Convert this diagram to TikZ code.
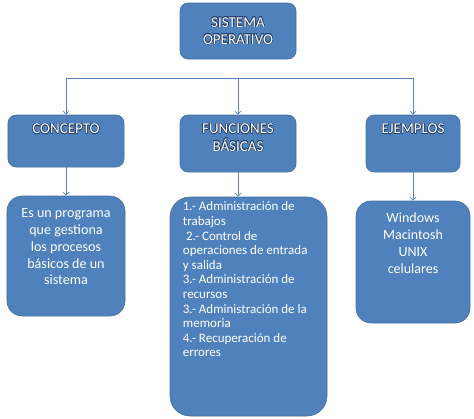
\documentclass[tikz,border=0pt]{standalone}
\usepackage{fontspec}
\setmainfont{Carlito}
\usepackage[copies]{contour}
\usetikzlibrary{arrows.meta,positioning}
\definecolor{boxblue}{HTML}{4F81BD}
\definecolor{boxline}{HTML}{44729F}
\definecolor{arrowblue}{HTML}{5A86BF}
\definecolor{glowblue}{HTML}{24406B}
\contourlength{0.5pt}
\newcommand{\headtxt}[1]{\contour{glowblue}{#1}}
\begin{document}
\begin{tikzpicture}[x=1bp,y=-1bp]
      \useasboundingbox (0,0) rectangle (474,418);
      \begin{scope}[every node/.style={rectangle,fill=boxblue,draw=boxline,line width=0.6bp,inner sep=0pt}]
        \node[rounded corners=8bp,minimum width=116bp,minimum height=56bp] (so) at (238,31) {};
        \node[rounded corners=8bp,minimum width=116bp,minimum height=52bp] (concepto) at (66,141) {};
        \node[rounded corners=8bp,minimum width=116bp,minimum height=57bp] (funciones) at (238,143.5) {};
        \node[rounded corners=8bp,minimum width=94bp,minimum height=57bp] (ejemplos) at (413,143.5) {};
        \node[rounded corners=15bp,minimum width=118bp,minimum height=120bp] (definicion) at (66,256) {};
        \node[rounded corners=20bp,minimum width=157bp,minimum height=219bp] (lista) at (248.5,306.5) {};
        \node[rounded corners=15bp,minimum width=114bp,minimum height=122bp] (sistemas) at (413,262) {};
      \end{scope}
      \begin{scope}[every node/.style={text=white,inner sep=0pt,align=center}]
        \node[font=\fontsize{15bp}{17bp}\selectfont] (sotxt) at (so) {\headtxt{SISTEMA}\\\headtxt{OPERATIVO}};
        \node[font=\fontsize{15bp}{17.5bp}\selectfont,below=9bp of concepto.north] (conceptotxt) {\headtxt{CONCEPTO}};
        \node[font=\fontsize{15bp}{17.5bp}\selectfont,below=9bp of funciones.north] (funcionestxt) {\headtxt{FUNCIONES}\\\headtxt{BÁSICAS}};
        \node[font=\fontsize{15bp}{17.5bp}\selectfont,below=9bp of ejemplos.north] (ejemplostxt) {\headtxt{EJEMPLOS}};
        \node[font=\fontsize{14.1bp}{16.7bp}\selectfont,below=13bp of definicion.north] (definiciontxt) {Es un programa\\que gestiona\\los procesos\\básicos de un\\sistema};
        \node[font=\fontsize{13bp}{14.6bp}\selectfont,align=left,below right=5bp and 13bp of lista.north west] (listatxt)
          {1.- Administración de\\trabajos\\\hspace{0.25em}2.- Control de\\operaciones de entrada\\y salida\\3.- Administración de\\recursos\\3.- Administración de la\\memoria\\4.- Recuperación de\\errores};
        \node[font=\fontsize{14bp}{16.9bp}\selectfont,below=12bp of sistemas.north] (sistemastxt) {Windows\\Macintosh\\UNIX\\celulares};
      \end{scope}
      \coordinate (ha) at (66,78);
      \coordinate (hb) at (238,78);
      \coordinate (hc) at (413,78);
      \draw[arrowblue,line width=0.7bp] (ha) -- (hc);
      \begin{scope}[every edge/.style={draw=arrowblue,line width=0.7bp,-{Straight Barb[length=3bp,width=6bp]}}]
        \path (ha) edge (concepto);
        \path (hb) edge (funciones);
        \path (hc) edge (ejemplos);
        \path (concepto) edge (definicion);
        \path (funciones.south) edge (funciones.south |- lista.north);
        \path (ejemplos) edge (sistemas);
      \end{scope}
    \end{tikzpicture}
\end{document}
